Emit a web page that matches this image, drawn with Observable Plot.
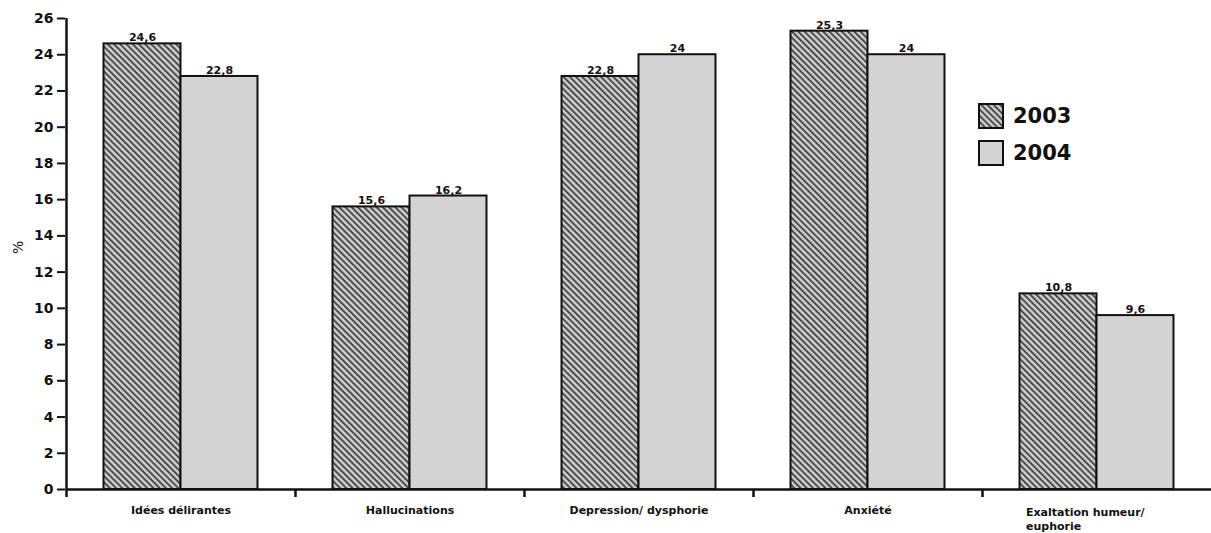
<!DOCTYPE html>
<html>
<head>
<meta charset="utf-8">
<script src="https://cdn.jsdelivr.net/npm/d3@7"></script>
<script src="https://cdn.jsdelivr.net/npm/@observablehq/plot@0.6"></script>
<style>
  body { margin: 0; background: #fff; font-family: "DejaVu Sans", Verdana, sans-serif; }
  #wrap { position: relative; width: 1211px; height: 533px; overflow: hidden; }
  .legend { position: absolute; left: 978px; top: 97px; font-weight: bold; font-size: 21px; color: #111; }
  .legend .row { display: flex; align-items: center; height: 37px; }
  .legend svg { display: block; }
</style>
</head>
<body>
<div id="wrap"></div>
<script>
const categories = ["Idées délirantes", "Hallucinations", "Depression/ dysphorie", "Anxiété", "Exaltation humeur/ euphorie"];
const categoryLabels = ["Idées délirantes", "Hallucinations", "Depression/ dysphorie", "Anxiété", "Exaltation humeur/\neuphorie"];
const years = ["2003", "2004"];
const values2003 = [24.6, 15.6, 22.8, 25.3, 10.8];
const values2004 = [22.8, 16.2, 24, 24, 9.6];
const yTicks = [0, 2, 4, 6, 8, 10, 12, 14, 16, 18, 20, 22, 24, 26];

const rows2003 = categories.map((c, i) => ({category: c, year: years[0], value: values2003[i]}));
const rows2004 = categories.map((c, i) => ({category: c, year: years[1], value: values2004[i]}));
const fmt = v => String(v).replace(".", ",");
const labelOf = c => categoryLabels[categories.indexOf(c)];

const W = 1211, H = 533, ML = 66, MR = 0;
const band = (W - ML - MR) / categories.length;
const outer = band * 0.1638;        // gap on each side of a group
const barW = (band - 2 * outer) / 2;

const font = "DejaVu Sans, Verdana, sans-serif";
const hatchBg = "#cdcdcd", hatchFg = "#4a4a4a";

const chart = Plot.plot({
  width: W,
  height: H,
  marginLeft: ML,
  marginRight: MR,
  marginTop: 18,
  marginBottom: 44,
  style: {fontFamily: font, background: "white", color: "#111", overflow: "visible"},
  x: {domain: categories, padding: 0, axis: null},
  y: {domain: [0, 26], axis: null},
  marks: [
    Plot.barY(rows2003, {x: "category", y: "value", fill: "url(#hatch)", stroke: "#111", strokeWidth: 2,
      insetLeft: outer, insetRight: band - outer - barW}),
    Plot.barY(rows2004, {x: "category", y: "value", fill: "#d3d3d3", stroke: "#111", strokeWidth: 2,
      insetLeft: outer + barW, insetRight: outer}),
    Plot.text(rows2003, {x: "category", y: "value", text: d => fmt(d.value), dx: -barW / 2, dy: -6,
      fontSize: 11, fontWeight: "bold", fill: "#111"}),
    Plot.text(rows2004, {x: "category", y: "value", text: d => fmt(d.value), dx: barW / 2, dy: -6,
      fontSize: 11, fontWeight: "bold", fill: "#111"}),
    // axis lines
    Plot.ruleY([0], {stroke: "#111", strokeWidth: 2.5}),
    Plot.ruleX([categories[0]], {y1: 0, y2: 26, dx: -band / 2, stroke: "#111", strokeWidth: 2.5}),
    // y axis ticks and labels
    Plot.axisY({ticks: yTicks, tickSize: 8, tickPadding: 4, strokeWidth: 2, fontSize: 14, fontWeight: "bold",
      label: null, dx: -1}),
    // x boundary ticks
    Plot.axisX({ticks: categories, tickSize: 8, tickFormat: () => "", dx: -band / 2, strokeWidth: 2.5, label: null}),
    // x labels
    Plot.text(categories.slice(0, 4), {x: d => d, text: labelOf, frameAnchor: "bottom", lineAnchor: "top", dy: 17,
      fontSize: 11, fontWeight: "bold", fill: "#111"}),
    Plot.text(categories.slice(4), {x: d => d, text: labelOf, frameAnchor: "bottom", lineAnchor: "top", dy: 16,
      textAnchor: "start", dx: -71, lineHeight: 1.3, fontSize: 11, fontWeight: "bold", fill: "#111"}),
    // y label
    Plot.text(["%"], {frameAnchor: "left", dx: -48, rotate: -90, fontSize: 14, fill: "#111"})
  ]
});

const defs = d3.select(chart).insert("defs", ":first-child");
const pat = defs.append("pattern").attr("id", "hatch").attr("patternUnits", "userSpaceOnUse")
  .attr("width", 4.4).attr("height", 10).attr("patternTransform", "rotate(-45)");
pat.append("rect").attr("width", 4.4).attr("height", 10).attr("fill", hatchBg);
pat.append("rect").attr("width", 1.9).attr("height", 10).attr("fill", hatchFg);

const wrap = document.getElementById("wrap");
wrap.appendChild(chart);

const legend = document.createElement("div");
legend.className = "legend";
legend.innerHTML = `
  <div class="row"><svg width="26" height="26"><defs><pattern id="hatchL" patternUnits="userSpaceOnUse" width="4.4" height="10" patternTransform="rotate(-45)"><rect width="4.4" height="10" fill="${hatchBg}"/><rect width="1.9" height="10" fill="${hatchFg}"/></pattern></defs><rect x="1" y="1" width="24" height="24" fill="url(#hatchL)" stroke="#111" stroke-width="2"/></svg><span style="margin-left:9px">${years[0]}</span></div>
  <div class="row"><svg width="26" height="26"><rect x="1" y="1" width="24" height="24" fill="#d3d3d3" stroke="#111" stroke-width="2"/></svg><span style="margin-left:9px">${years[1]}</span></div>`;
wrap.appendChild(legend);
</script>
</body>
</html>
